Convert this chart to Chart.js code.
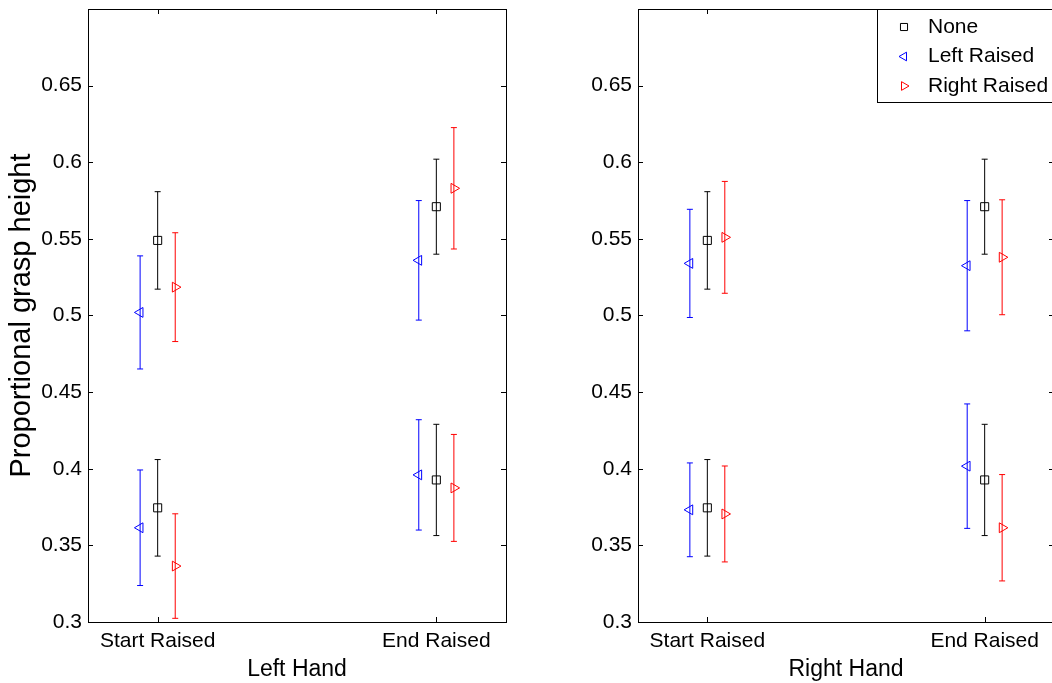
<!DOCTYPE html>
<html>
<head>
    <title>Proportional grasp height</title>
    <script src="https://cdn.jsdelivr.net/npm/chart.js"></script>
    <style>
        body { margin: 0; background: #fff; }
        #wrap { position: relative; width: 1052px; height: 683px; overflow: hidden; }
        #wrap canvas { position: absolute; top: 0; }
        #leftChart { left: 0; }
        #rightChart { left: 550px; }
    </style>
</head>
<body>
<div id="wrap">
    <canvas id="leftChart" width="526" height="683"></canvas>
    <canvas id="rightChart" width="526" height="683"></canvas>
</div>

<script>
    const categories = ['Start Raised', 'End Raised'];
    const seriesNames = ['None', 'Left Raised', 'Right Raised'];
    const seriesColors = ['#000000', '#0000ff', '#ff0000'];
    // each series has four points: Start Raised (high, low), End Raised (high, low)
    const categoryIndex = [1, 1, 2, 2];
    const yTicks = [0.3, 0.35, 0.4, 0.45, 0.5, 0.55, 0.6, 0.65, 0.7];

    // Left hand: means and error bar half-widths
    const leftNone = [0.549, 0.3745, 0.571, 0.3927];
    const leftNoneErr = [0.0318, 0.0315, 0.031, 0.0363];
    const leftLeftRaised = [0.502, 0.3615, 0.536, 0.396];
    const leftLeftRaisedErr = [0.0369, 0.0377, 0.039, 0.036];
    const leftRightRaised = [0.5185, 0.3365, 0.583, 0.3875];
    const leftRightRaisedErr = [0.0355, 0.0341, 0.0396, 0.0349];

    // Right hand: means and error bar half-widths
    const rightNone = [0.549, 0.3745, 0.571, 0.3927];
    const rightNoneErr = [0.0318, 0.0315, 0.031, 0.0363];
    const rightLeftRaised = [0.534, 0.3732, 0.5325, 0.4017];
    const rightLeftRaisedErr = [0.0353, 0.0306, 0.0425, 0.0406];
    const rightRightRaised = [0.551, 0.3705, 0.538, 0.3615];
    const rightRightRaisedErr = [0.0365, 0.0313, 0.0375, 0.0347];

    const FONT = '"Liberation Sans", Arial, Helvetica, sans-serif';
    const xOffsets = [0, -0.063, 0.063];
    const pointStyles = ['rect', 'triangle', 'triangle'];
    const rotations = [0, -90, 90];

    function drawMarker(ctx, style, rotation, x, y, r, color) {
        ctx.save();
        ctx.strokeStyle = color;
        ctx.lineWidth = 1;
        ctx.beginPath();
        if (style === 'rect') {
            const s = r * Math.SQRT1_2;
            ctx.rect(x - s, y - s, 2 * s, 2 * s);
        } else {
            let rad = rotation * Math.PI / 180;
            for (let k = 0; k < 3; k++) {
                const px = x + Math.sin(rad) * r, py = y - Math.cos(rad) * r;
                if (k) ctx.lineTo(px, py); else ctx.moveTo(px, py);
                rad += 2 * Math.PI / 3;
            }
            ctx.closePath();
        }
        ctx.stroke();
        ctx.restore();
    }

    // vertical error bars with small caps, under the markers
    const errorBars = {
        id: 'errorBars',
        beforeDatasetsDraw(chart) {
            const { ctx, scales: { x, y } } = chart;
            ctx.save();
            ctx.lineWidth = 1;
            chart.data.datasets.forEach(ds => {
                ctx.strokeStyle = ds.borderColor;
                ds.data.forEach((p, i) => {
                    const px = x.getPixelForValue(p.x);
                    const top = y.getPixelForValue(p.y + ds.errors[i]);
                    const bot = y.getPixelForValue(p.y - ds.errors[i]);
                    ctx.beginPath();
                    ctx.moveTo(px, top); ctx.lineTo(px, bot);
                    ctx.moveTo(px - 3, top); ctx.lineTo(px + 3, top);
                    ctx.moveTo(px - 3, bot); ctx.lineTo(px + 3, bot);
                    ctx.stroke();
                });
            });
            ctx.restore();
        }
    };

    // box around the axes with inward ticks on all four sides
    const frame = {
        id: 'frame',
        afterDraw(chart) {
            const { ctx, chartArea: a, scales: { x, y } } = chart;
            ctx.save();
            ctx.strokeStyle = '#000';
            ctx.lineWidth = 1;
            ctx.strokeRect(a.left + 0.5, a.top + 0.5, a.width, a.height);
            ctx.beginPath();
            y.ticks.forEach(t => {
                const py = Math.round(y.getPixelForValue(t.value)) + 0.5;
                ctx.moveTo(a.left, py); ctx.lineTo(a.left + 5, py);
                ctx.moveTo(a.right, py); ctx.lineTo(a.right - 5, py);
            });
            x.ticks.forEach(t => {
                const px = Math.round(x.getPixelForValue(t.value)) + 0.5;
                ctx.moveTo(px, a.bottom); ctx.lineTo(px, a.bottom - 5);
                ctx.moveTo(px, a.top); ctx.lineTo(px, a.top + 5);
            });
            ctx.stroke();
            ctx.restore();
        }
    };

    const boxLegend = {
        id: 'boxLegend',
        afterDraw(chart) {
            const { ctx, chartArea: a } = chart;
            const w = 177, h = 93;
            const left = a.right - w, top = a.top;
            ctx.save();
            ctx.fillStyle = '#fff';
            ctx.fillRect(left, top, w, h);
            ctx.strokeStyle = '#000';
            ctx.lineWidth = 1;
            ctx.strokeRect(left + 0.5, top + 0.5, w, h);
            ctx.font = '21px ' + FONT;
            ctx.textBaseline = 'middle';
            chart.data.datasets.forEach((ds, i) => {
                const cy = top + 18 + i * 29.5;
                drawMarker(ctx, ds.pointStyle, ds.rotation, left + 27, cy, 5, ds.borderColor);
                ctx.fillStyle = '#000';
                ctx.fillText(ds.label, left + 51, cy);
            });
            ctx.restore();
        }
    };

    function makePanel(canvasId, title, means, errs, padRight, withLegend) {
        const datasets = seriesNames.map((name, s) => ({
            label: name,
            data: categoryIndex.map((c, i) => ({ x: c + xOffsets[s], y: means[s][i] })),
            errors: errs[s],
            pointStyle: pointStyles[s],
            rotation: rotations[s],
            pointRadius: 5.7,
            borderColor: seriesColors[s],
            backgroundColor: 'rgba(0,0,0,0)',
            borderWidth: 1
        }));

        const plugins = [errorBars, frame];
        if (withLegend) plugins.push(boxLegend);

        return new Chart(document.getElementById(canvasId), {
            type: 'scatter',
            data: { datasets },
            plugins,
            options: {
                responsive: false,
                animation: false,
                devicePixelRatio: 1,
                layout: { padding: { top: 9, right: padRight, left: 0, bottom: 0 } },
                plugins: { legend: { display: false }, tooltip: { enabled: false } },
                scales: {
                    x: {
                        type: 'linear',
                        min: 0.75,
                        max: 2.25,
                        afterBuildTicks: scale => { scale.ticks = [{ value: 1 }, { value: 2 }]; },
                        afterFit: scale => {
                            scale.height = 61;
                            scale.paddingLeft = 0;
                            scale.paddingRight = 0;
                        },
                        grid: { display: false },
                        border: { display: false },
                        ticks: {
                            autoSkip: false,
                            maxRotation: 0,
                            padding: -1,
                            color: '#000',
                            font: { family: FONT, size: 21 },
                            callback: v => categories[Math.round(v) - 1]
                        },
                        title: {
                            display: true,
                            text: title,
                            color: '#000',
                            font: { family: FONT, size: 23 },
                            padding: { top: 0, bottom: 0 }
                        }
                    },
                    y: {
                        min: 0.3,
                        max: 0.7,
                        afterBuildTicks: scale => { scale.ticks = yTicks.map(v => ({ value: v })); },
                        afterFit: scale => {
                            scale.width = 88;
                            scale.paddingTop = 0;
                            scale.paddingBottom = 0;
                        },
                        grid: { display: false },
                        border: { display: false },
                        ticks: {
                            padding: -2,
                            color: '#000',
                            font: { family: FONT, size: 21 },
                            callback: v => v > 0.69 ? '' : String(parseFloat(v.toFixed(2)))
                        },
                        title: {
                            display: canvasId === 'leftChart',
                            text: 'Proportional grasp height',
                            color: '#000',
                            font: { family: FONT, size: 29 },
                            padding: { top: 5, bottom: 0 }
                        }
                    }
                }
            }
        });
    }

    makePanel('leftChart', 'Left Hand',
        [leftNone, leftLeftRaised, leftRightRaised],
        [leftNoneErr, leftLeftRaisedErr, leftRightRaisedErr], 20, false);

    makePanel('rightChart', 'Right Hand',
        [rightNone, rightLeftRaised, rightRightRaised],
        [rightNoneErr, rightLeftRaisedErr, rightRightRaisedErr], 22, true);
</script>
</body>
</html>
